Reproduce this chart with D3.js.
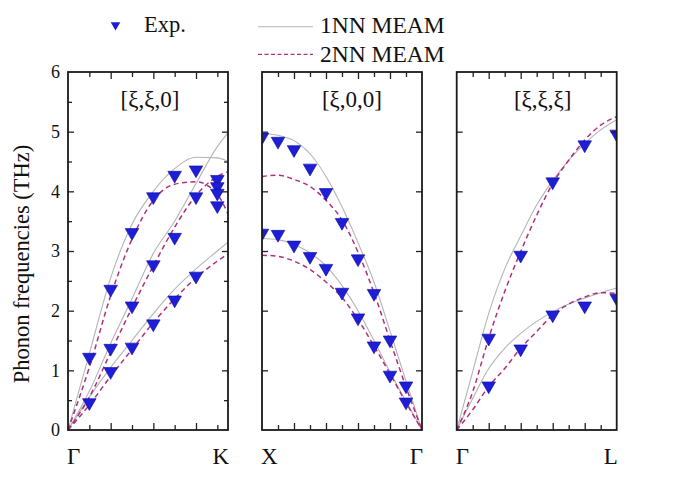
<!DOCTYPE html>
<html><head><meta charset="utf-8">
<script src="https://cdn.jsdelivr.net/npm/d3@7"></script>
<style>
html,body{margin:0;padding:0;background:#fff;}
svg{display:block;}
svg text{font-family:"Liberation Serif","Times New Roman",serif;}
</style></head>
<body>
<svg id="chart" width="685" height="478"></svg>
<script>
// ---------- DATA ----------
const yTickLabels = ["0","1","2","3","4","5","6"];
const panelTitles = ["[ξ,ξ,0]", "[ξ,0,0]", "[ξ,ξ,ξ]"];
const pointLabels = [["Γ","K"], ["X","Γ"], ["Γ","L"]];
const legendLabels = ["Exp.", "1NN MEAM", "2NN MEAM"];

// Panel 1: Γ -> K  [ξ,ξ,0]
const xiGK = [0, 0.1, 0.2, 0.3, 0.4, 0.5, 0.6, 0.7, 0.75];
const gk1nnLA  = [0, 1.28, 2.55, 3.45, 4.00, 4.38, 4.57, 4.56, 4.50];
const gk1nnTA1 = [0, 0.65, 1.45, 2.20, 2.96, 3.50, 4.13, 4.75, 4.98];
const gk1nnTA2 = [0, 0.55, 1.05, 1.50, 1.95, 2.36, 2.70, 3.00, 3.15];
const gk2nnLA  = [0, 1.05, 2.25, 3.20, 3.85, 4.12, 4.16, 3.95, 3.62];
const gk2nnTA1 = [0, 0.55, 1.30, 2.05, 2.75, 3.40, 3.93, 4.25, 4.33];
const gk2nnTA2 = [0, 0.42, 0.90, 1.35, 1.80, 2.20, 2.55, 2.83, 2.95];
const gkExpXi  = [0.1, 0.1, 0.2, 0.2, 0.2, 0.3, 0.3, 0.3, 0.4, 0.4, 0.4, 0.5, 0.5, 0.5, 0.6, 0.6, 0.6, 0.7, 0.7, 0.7, 0.7];
const gkExpF   = [1.22, 0.46, 2.36, 1.37, 0.98, 3.31, 2.08, 1.39, 3.91, 2.77, 1.78, 4.27, 3.23, 2.18, 4.36, 3.91, 2.58, 4.20, 4.08, 3.97, 3.76];

// Panel 2: X -> Γ  [ξ,0,0]
const xiXG = [1, 0.9, 0.8, 0.7, 0.6, 0.5, 0.4, 0.3, 0.2, 0.1, 0];
const xg1nnL = [4.97, 4.94, 4.85, 4.63, 4.25, 3.74, 3.14, 2.48, 1.66, 0.82, 0];
const xg2nnL = [4.25, 4.27, 4.20, 4.08, 3.85, 3.52, 2.98, 2.30, 1.50, 0.72, 0];
const xg1nnT = [3.21, 3.19, 3.11, 2.97, 2.75, 2.42, 2.00, 1.50, 0.97, 0.48, 0];
const xg2nnT = [2.93, 2.91, 2.83, 2.69, 2.48, 2.22, 1.85, 1.41, 0.94, 0.46, 0];
const xgExpXi = [1, 0.9, 0.8, 0.7, 0.6, 0.5, 0.4, 0.3, 0.2, 0.1];
const xgExpL  = [4.91, 4.84, 4.70, 4.39, 3.98, 3.48, 2.87, 2.29, 1.51, 0.74];
const xgExpT  = [3.30, 3.28, 3.10, 2.91, 2.71, 2.31, 1.88, 1.41, 0.92, 0.47];

// Panel 3: Γ -> L  [ξ,ξ,ξ]
const xiGL = [0, 0.05, 0.1, 0.15, 0.2, 0.25, 0.3, 0.35, 0.4, 0.45, 0.5];
const gl1nnL = [0, 0.98, 1.95, 2.70, 3.25, 3.77, 4.18, 4.52, 4.80, 5.03, 5.20];
const gl2nnL = [0, 0.64, 1.54, 2.32, 2.99, 3.60, 4.13, 4.52, 4.86, 5.11, 5.25];
const gl1nnT = [0, 0.53, 1.03, 1.37, 1.62, 1.82, 1.98, 2.11, 2.21, 2.30, 2.38];
const gl2nnT = [0, 0.34, 0.73, 1.03, 1.37, 1.65, 1.93, 2.11, 2.23, 2.30, 2.29];
const glExpXi = [0.1, 0.2, 0.3, 0.4, 0.5];
const glExpL  = [1.54, 2.93, 4.16, 4.78, 4.96];
const glExpT  = [0.74, 1.36, 1.93, 2.08, 2.21];

// ---------- DRAW ----------
const FONT = "Liberation Serif, Times New Roman, serif";
const svg = d3.select("#chart");
const C1 = "#b4b4b4", C2 = "#b0307e", CM = "#1e1ed8";
const y = d3.scaleLinear().domain([0, 6]).range([430, 72]);

const panels = [
  {x: d3.scaleLinear().domain([0, 0.75]).range([68, 228]),
   minor: d3.range(1, 8).map(i => i / 10), major: [0.2, 0.4, 0.6], yMinor: true,
   lines1: [[xiGK, gk1nnLA], [xiGK, gk1nnTA1], [xiGK, gk1nnTA2]],
   lines2: [[xiGK, gk2nnLA], [xiGK, gk2nnTA1], [xiGK, gk2nnTA2]],
   exp: [[gkExpXi, gkExpF]], titleDx: 2},
  {x: d3.scaleLinear().domain([1, 0]).range([262, 422]),
   minor: d3.range(1, 10).map(i => i / 10), major: [0.2, 0.4, 0.6, 0.8], yMinor: false,
   lines1: [[xiXG, xg1nnL], [xiXG, xg1nnT]],
   lines2: [[xiXG, xg2nnL], [xiXG, xg2nnT]],
   exp: [[xgExpXi, xgExpL], [xgExpXi, xgExpT]], titleDx: 10},
  {x: d3.scaleLinear().domain([0, 0.5]).range([456.7, 616.7]),
   minor: d3.range(1, 10).map(i => i / 20), major: [0.1, 0.2, 0.3, 0.4], yMinor: false,
   lines1: [[xiGL, gl1nnL], [xiGL, gl1nnT]],
   lines2: [[xiGL, gl2nnL], [xiGL, gl2nnT]],
   exp: [[glExpXi, glExpL], [glExpXi, glExpT]], titleDx: 6}
];

const tri = d3.symbol().type(d3.symbolTriangle);

function txt(sel) { return sel.attr("font-family", FONT).attr("fill", "#111"); }

panels.forEach((p, pi) => {
  const [x0, x1] = p.x.range();
  const g = svg.append("g");
  const clipId = "clip" + pi;
  svg.append("clipPath").attr("id", clipId).append("rect")
    .attr("x", x0).attr("y", 72).attr("width", x1 - x0).attr("height", 358);

  const line = d3.line().x(d => p.x(d[0])).y(d => y(d[1])).curve(d3.curveMonotoneX);
  const plot = g.append("g").attr("clip-path", `url(#${clipId})`);
  p.lines1.forEach(([xs, vs]) => {
    plot.append("path").datum(xs.map((v, i) => [v, vs[i]]))
      .attr("d", line).attr("fill", "none").attr("stroke", C1).attr("stroke-width", 1.1);
  });
  p.lines2.forEach(([xs, vs]) => {
    plot.append("path").datum(xs.map((v, i) => [v, vs[i]]))
      .attr("d", line).attr("fill", "none").attr("stroke", C2).attr("stroke-width", 1.5)
      .attr("stroke-dasharray", "5,3.5");
  });
  p.exp.forEach(([xs, vs]) => {
    plot.selectAll(null).data(xs.map((v, i) => [v, vs[i]])).enter().append("path")
      .attr("d", tri.size(80)())
      .attr("transform", d => `translate(${p.x(d[0])},${y(d[1])}) rotate(180)`)
      .attr("fill", CM).attr("stroke", "#0a0a9a").attr("stroke-width", 0.6);
  });

  // x ticks bottom / top (inward)
  const xMinorOnly = p.minor.filter(v => !p.major.some(m => Math.abs(m - v) < 1e-9));
  [[d3.axisBottom, 430], [d3.axisTop, 72]].forEach(([fn, ty]) => {
    g.append("g").attr("transform", `translate(0,${ty})`)
      .call(fn(p.x).tickValues(xMinorOnly).tickSizeInner(-5).tickSizeOuter(0).tickFormat(""))
      .call(a => a.select(".domain").remove())
      .call(a => a.selectAll("line").attr("stroke", "#222").attr("stroke-width", 1.3));
    g.append("g").attr("transform", `translate(0,${ty})`)
      .call(fn(p.x).tickValues(p.major).tickSizeInner(-7).tickSizeOuter(0).tickFormat(""))
      .call(a => a.select(".domain").remove())
      .call(a => a.selectAll("line").attr("stroke", "#222").attr("stroke-width", 1.3));
  });

  // y ticks left / right (inward)
  const yMajor = d3.range(1, 6);
  const yMin = p.yMinor ? d3.range(0.5, 6, 1) : [];
  [[d3.axisLeft, x0], [d3.axisRight, x1]].forEach(([fn, tx]) => {
    g.append("g").attr("transform", `translate(${tx},0)`)
      .call(fn(y).tickValues(yMajor).tickSizeInner(-6).tickSizeOuter(0).tickFormat(""))
      .call(a => a.select(".domain").remove())
      .call(a => a.selectAll("line").attr("stroke", "#222").attr("stroke-width", 1.3));
    if (yMin.length) g.append("g").attr("transform", `translate(${tx},0)`)
      .call(fn(y).tickValues(yMin).tickSizeInner(-4).tickSizeOuter(0).tickFormat(""))
      .call(a => a.select(".domain").remove())
      .call(a => a.selectAll("line").attr("stroke", "#222").attr("stroke-width", 1.3));
  });

  // frame
  g.append("rect").attr("x", x0).attr("y", 72).attr("width", x1 - x0).attr("height", 358)
    .attr("fill", "none").attr("stroke", "#1a1a1a").attr("stroke-width", 1.8);

  // title
  txt(g.append("text")).attr("x", (x0 + x1) / 2 + p.titleDx).attr("y", 107)
    .attr("text-anchor", "middle").attr("font-size", 23)
    .text(panelTitles[pi]);

  // high-symmetry labels
  txt(g.append("text")).attr("x", x0 - 1).attr("y", 464).attr("font-size", 23)
    .text(pointLabels[pi][0]);
  txt(g.append("text")).attr("x", x1 + 1).attr("y", 464).attr("font-size", 23)
    .attr("text-anchor", "end").text(pointLabels[pi][1]);
});

// y axis labels (panel 1 only)
svg.append("g").attr("transform", "translate(68,0)")
  .call(d3.axisLeft(y).tickValues(d3.range(0, 7)).tickSize(0).tickPadding(8)
    .tickFormat((d, i) => yTickLabels[i]))
  .attr("font-family", FONT)
  .call(a => a.select(".domain").remove())
  .call(a => a.selectAll("text").attr("font-family", FONT)
    .attr("font-size", 18).attr("fill", "#111"));

txt(svg.append("text"))
  .attr("transform", "translate(29,264) rotate(-90)")
  .attr("text-anchor", "middle").attr("font-size", 22.5)
  .text("Phonon frequencies (THz)");

// legend
svg.append("path").attr("d", tri.size(40)())
  .attr("transform", "translate(115.5,25) rotate(180)").attr("fill", CM);
txt(svg.append("text")).attr("x", 144).attr("y", 32).attr("font-size", 22.5)
  .text(legendLabels[0]);
svg.append("line").attr("x1", 258).attr("x2", 313).attr("y1", 26.7).attr("y2", 26.7)
  .attr("stroke", C1).attr("stroke-width", 1.1);
txt(svg.append("text")).attr("x", 320).attr("y", 33).attr("font-size", 23.5)
  .text(legendLabels[1]);
svg.append("line").attr("x1", 258).attr("x2", 313).attr("y1", 54.3).attr("y2", 54.3)
  .attr("stroke", C2).attr("stroke-width", 1.3).attr("stroke-dasharray", "4,2.5");
txt(svg.append("text")).attr("x", 320).attr("y", 61.5).attr("font-size", 23.5)
  .text(legendLabels[2]);
</script>
</body></html>
